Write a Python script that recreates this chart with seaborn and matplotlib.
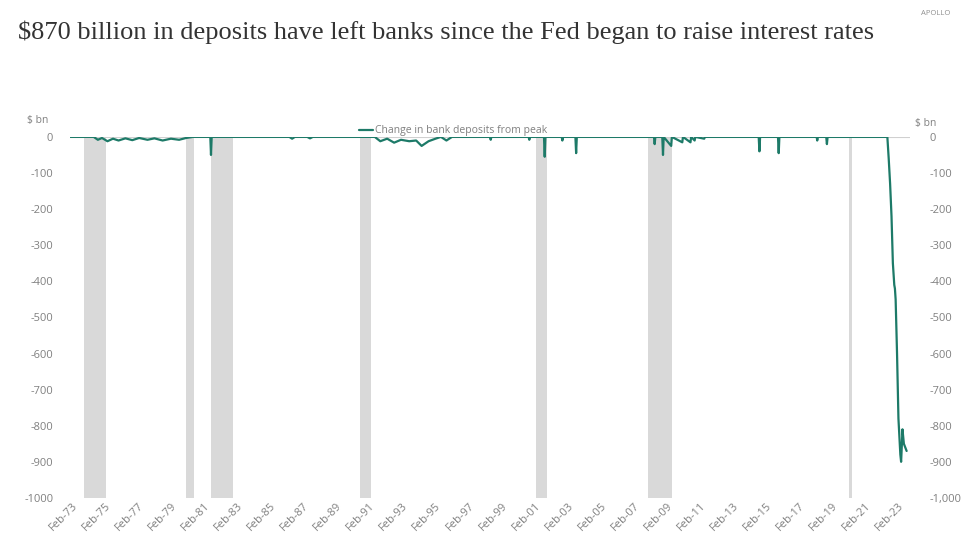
import pandas as pd
import numpy as np
import matplotlib
matplotlib.use("Agg")
import matplotlib.pyplot as plt
import matplotlib.dates as mdates
import seaborn as sns

# Change in bank deposits from peak, $ bn
dates = [
    "1973-01-01", "1974-06-01", "1974-09-01", "1974-12-01", "1975-04-01", "1975-08-01", "1975-12-01",
    "1976-05-01", "1976-10-01", "1977-03-01", "1977-09-01", "1978-02-01", "1978-08-01", "1979-02-01",
    "1979-08-01", "1980-01-01", "1980-06-01", "1981-06-20", "1981-07-05", "1981-07-20",
    "1986-04-01", "1986-06-01", "1986-08-01", "1987-05-01", "1987-07-01", "1987-09-01",
    "1991-06-01", "1991-10-01", "1992-03-01", "1992-08-01", "1993-01-01", "1993-07-01", "1993-12-01",
    "1994-04-01", "1994-09-01", "1995-02-01", "1995-06-01", "1995-10-01", "1996-02-01",
    "1998-05-20", "1998-06-05", "1998-06-20", "2000-09-20", "2000-10-05", "2000-10-20",
    "2001-08-25", "2001-09-10", "2001-09-25", "2002-09-20", "2002-10-05", "2002-10-20",
    "2003-07-20", "2003-08-05", "2003-08-20", "2008-04-20", "2008-05-05", "2008-05-20",
    "2008-10-20", "2008-11-05", "2008-11-20", "2009-05-05", "2009-05-20", "2010-01-05", "2010-01-20",
    "2010-07-05", "2010-07-20", "2010-10-05", "2010-10-20", "2011-05-05", "2011-05-20",
    "2014-08-20", "2014-09-05", "2014-09-20", "2015-10-20", "2015-11-05", "2015-11-20",
    "2018-02-20", "2018-03-05", "2018-03-20", "2018-09-20", "2018-10-05", "2018-10-20",
    "2022-06-01", "2022-07-01", "2022-08-01", "2022-09-01", "2022-10-01", "2022-11-01", "2022-11-15",
    "2022-12-01", "2023-01-01", "2023-02-01", "2023-03-15", "2023-04-01", "2023-04-15", "2023-05-01",
    "2023-06-01", "2023-08-01",
]
values = [
    0, 0, -8, -3, -12, -5, -10,
    -4, -9, -3, -8, -4, -10, -5,
    -8, -3, 0, 0, -50, 0,
    0, -5, 0, 0, -4, 0,
    0, -12, -5, -16, -8, -12, -10,
    -25, -12, -5, 0, -10, 0,
    0, -8, 0, 0, -8, 0,
    0, -55, 0, 0, -10, 0,
    0, -45, 0, 0, -20, 0,
    0, -50, 0, -25, 0, -15, 0,
    -15, 0, -10, 0, -5, 0,
    0, -40, 0, 0, -45, 0,
    0, -10, 0, 0, -20, 0,
    0, -60, -130, -220, -350, -410, -420,
    -450, -600, -780, -880, -900, -860, -810,
    -850, -870,
]

# NBER recessions
rec_start = ["1973-11", "1980-01", "1981-07", "1990-07", "2001-03", "2007-12", "2020-02"]
rec_end = ["1975-03", "1980-07", "1982-11", "1991-03", "2001-11", "2009-06", "2020-04"]

y_ticks = [0, -100, -200, -300, -400, -500, -600, -700, -800, -900, -1000]
left_labels = ["0", "-100", "-200", "-300", "-400", "-500", "-600", "-700", "-800", "-900", "-1000"]
right_labels = ["0", "-100", "-200", "-300", "-400", "-500", "-600", "-700", "-800", "-900", "-1,000"]

df = pd.DataFrame({"date": pd.to_datetime(dates), "value": values})

sns.set_style("white")
plt.rcParams["font.family"] = ["Open Sans", "DejaVu Sans"]

fig = plt.figure(figsize=(9.78, 5.52), dpi=100)
ax = fig.add_axes([0.0716, 0.098, 0.8589, 0.654])

for s, e in zip(rec_start, rec_end):
    ax.axvspan(pd.Timestamp(s), pd.Timestamp(e), color="#d9d9d9", lw=0, zorder=0)

ax.axhline(0, color="#d0d0d0", lw=0.8, zorder=1)
sns.lineplot(data=df, x="date", y="value", ax=ax, color="#1d7a68", lw=1.6,
             label="Change in bank deposits from peak", zorder=3)

ax.set_xlim(pd.Timestamp("1972-12-25"), pd.Timestamp("2023-10-15"))
ax.set_ylim(-1000, 0)
ax.set_xlabel("")
ax.set_ylabel("")

xt = pd.date_range("1973-02-01", "2023-02-01", freq="24MS")
ax.set_xticks(xt)
ax.xaxis.set_major_formatter(mdates.DateFormatter("%b-%y"))
ax.tick_params(axis="x", length=0, labelsize=8, labelcolor="#808080", pad=2)
for lab in ax.get_xticklabels():
    lab.set_rotation(45)
    lab.set_ha("right")
    lab.set_rotation_mode("anchor")

ax.set_yticks(y_ticks)
ax.set_yticklabels(left_labels)
ax.tick_params(axis="y", length=0, labelsize=8, labelcolor="#808080", pad=12)

ax2 = ax.twinx()
ax2.set_ylim(-1000, 0)
ax2.set_yticks(y_ticks)
ax2.set_yticklabels(right_labels)
ax2.tick_params(axis="y", length=0, labelsize=8, labelcolor="#808080", pad=14)

for a in (ax, ax2):
    for sp in a.spines.values():
        sp.set_visible(False)
    a.grid(False)

leg = ax.legend(loc="lower center", bbox_to_anchor=(0.456, 0.99), frameon=False,
                fontsize=7.5, handlelength=1.3, handletextpad=0.2, borderaxespad=0)
for t in leg.get_texts():
    t.set_color("#808080")

fig.text(0.049, 0.781, "$ bn", fontsize=7.5, color="#808080", ha="right", va="center")
fig.text(0.946, 0.777, "$ bn", fontsize=7.5, color="#808080", ha="center", va="center")

fig.text(0.018, 0.942, "$870 billion in deposits have left banks since the Fed began to raise interest rates",
         fontsize=19, family=["Liberation Serif", "DejaVu Serif"], color="#333333", ha="left", va="center")
fig.text(0.972, 0.975, "APOLLO", fontsize=5.5, color="#909090", ha="right", va="center")

fig.savefig("out.png", dpi=100, facecolor="white")
